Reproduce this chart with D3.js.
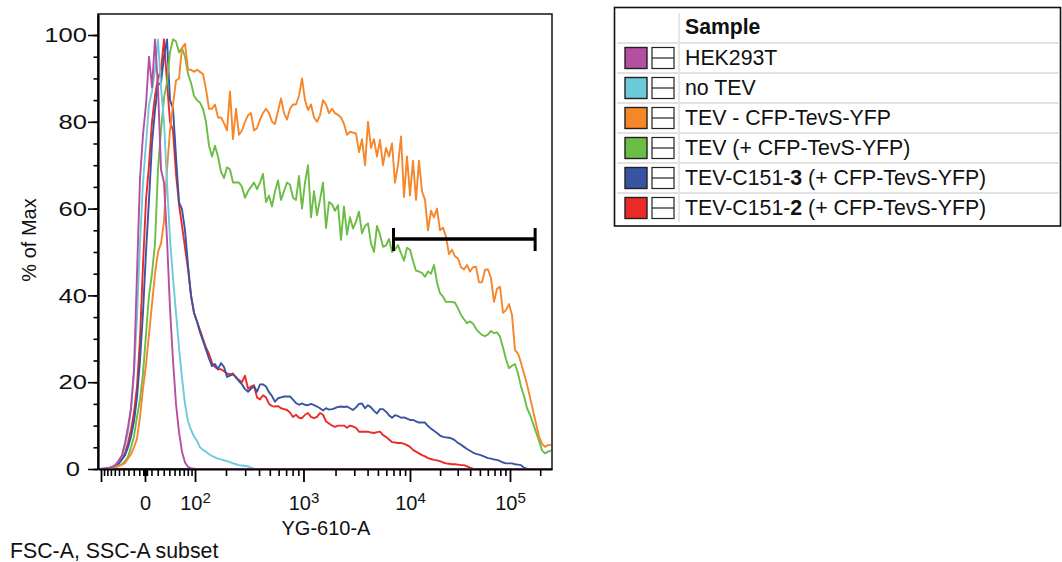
<!DOCTYPE html>
<html>
<head>
<meta charset="utf-8">
<script src="https://cdn.jsdelivr.net/npm/d3@7"></script>
<style>
  body { margin: 0; background: #fff; }
  svg { display: block; font-family: Arial, "Liberation Sans", Helvetica, sans-serif; }
</style>
</head>
<body>
<svg id="chart" width="1062" height="562"></svg>
<script>
/* FlowJo-style overlaid histograms (% of Max vs YG-610-A, biexponential axis) */

// Histogram bins are evenly spaced in display (channel) space
const BIN_COUNT = 152;

const samples = [
  'HEK293T',
  'no TEV',
  'TEV - CFP-TevS-YFP',
  'TEV (+ CFP-TevS-YFP)',
  'TEV-C151-**3** (+ CFP-TevS-YFP)',
  'TEV-C151-**2** (+ CFP-TevS-YFP)'
];
const colors = ['#b54f9f', '#6ccbda', '#f6862a', '#6bbd45', '#3a54a4', '#ec2a27'];

// % of Max per bin (empty bins at the right are left out)
const hek293t = [
  0, 0, 0.1, 0.2, 0.3, 0.5, 1, 2, 3.2, 6,
  9.7, 14, 23, 45, 67, 77, 84, 95, 88, 99,
  88, 69, 66, 53, 37, 25, 15, 8.5, 4, 1.5,
  0.5, 0.2, 0.1
];
const noTev = [
  0, 0, 0.1, 0.1, 0.2, 0.6, 1.2, 2, 3, 5.5,
  8.5, 14, 22, 35, 52, 66, 75, 84, 87, 92,
  99, 88, 80, 66, 53, 44, 36, 28, 21, 15,
  11, 9, 7.5, 6.5, 5, 4.4, 4, 3.4, 3, 2.7,
  2.4, 2.2, 2, 1.8, 1.6, 1.3, 1.1, 0.9, 0.8, 0.7,
  0.6, 0.3, 0.1
];
const tevMinus = [
  0, 0, 0, 0.1, 0.2, 0.3, 0.5, 0.7, 1, 1.4,
  2.4, 3.4, 5, 7, 12, 18.5, 24, 31, 38, 45,
  50, 52, 57, 69, 78, 84, 89.5, 90, 97, 98,
  92, 92, 91.5, 92, 91.5, 91, 87.5, 83, 83, 84,
  81, 81, 79.7, 78, 87, 76, 83, 77, 78, 80,
  81.5, 82, 78, 78.5, 80.5, 82, 83, 82, 80, 79.5,
  82.5, 85.4, 82, 80.5, 83, 84, 84, 86, 90, 85,
  82.7, 84, 81, 80, 81.5, 85, 84, 82, 83, 82,
  81.6, 81, 79.5, 77, 77.7, 77.5, 77.3, 73, 76, 70,
  80, 74, 76, 72, 75.8, 70, 74, 72, 75, 66,
  70, 76.6, 62.7, 72, 63, 71, 62, 71, 64, 62,
  55, 59.5, 58, 60, 55, 55.6, 53.5, 49.5, 50.5, 49,
  48.5, 46.5, 46, 47, 45.5, 46.5, 46.6, 43, 43, 45.9,
  46, 44, 38.5, 41.5, 42, 36, 36.6, 38, 35.5, 27.4,
  26.6, 24.5, 22, 19.5, 16.5, 13.5, 10.5, 7.5, 5.8, 5.1,
  5.5, 5.5
];
const tevPlus = [
  0, 0, 0, 0.1, 0.2, 0.3, 0.5, 0.8, 1.1, 1.8,
  2.8, 5, 7.5, 12, 16, 22, 31, 40, 45, 52,
  69, 78, 85.5, 89, 96, 99, 98.5, 96, 97, 95,
  91, 89, 86, 85, 84.4, 83, 80, 74.5, 72, 74.5,
  72, 68.5, 67, 69.5, 69, 66, 66, 66, 65, 62.5,
  64, 65, 66, 64.5, 66, 68, 61.5, 63, 60.5, 64,
  66.5, 62, 64, 66, 65.5, 62.5, 62, 67.5, 60, 66,
  70, 58, 64, 58.5, 62, 66, 55.5, 61.5, 61, 59.5,
  60.8, 52.8, 60.5, 54, 58, 55.4, 57, 59.3, 54.3, 56,
  56.6, 52, 50, 56, 54, 51.2, 51.5, 53, 50, 50.5,
  51.6, 49.7, 48, 51, 50.5, 48, 45.7, 45.5, 45.2, 44.3,
  45.5, 45, 47, 43, 40.5, 39.7, 38.5, 38.5, 38.5, 38.3,
  37, 35.5, 34.5, 33.6, 34, 33.5, 32.3, 31.5, 30.9, 30.6,
  31, 31.8, 31.3, 31.5, 30.5, 28, 25.3, 23.2, 23.8, 24.2,
  22, 19, 16.8, 14, 12.5, 10.5, 8.5, 6.5, 4.3, 3.6,
  4, 4.2
];
const c151Clone3 = [
  0, 0, 0.1, 0.2, 0.3, 0.5, 0.8, 1.3, 2.2, 3.2,
  5, 7.5, 11, 16.5, 25, 36, 50, 62, 75, 82.7,
  88.5, 89, 95, 99, 85, 83, 72, 61.5, 59.8, 55,
  47, 40, 36, 34, 31.5, 29.5, 27.5, 25.5, 23.7, 24.2,
  23, 24.4, 23.5, 21.2, 21.5, 21.8, 21.2, 20.2, 19.5, 18.4,
  17.8, 18.5, 19, 17.8, 19.5, 19.5, 19, 17.7, 16.8, 15.5,
  16.3, 16.5, 16.7, 16.7, 16.7, 16, 15.2, 14.8, 15.1, 14.8,
  14.7, 15, 14.7, 14.4, 14, 13.5, 14, 13.7, 13.8, 14,
  14.3, 14.4, 14.3, 14.4, 14, 13.6, 14.2, 15, 15.1, 14,
  14.7, 14.2, 13.4, 12.8, 13.8, 13.8, 13.2, 12.4, 11.8, 12.4,
  12.2, 11.8, 11.9, 11.6, 11.3, 11.3, 11, 10.7, 10.7, 10.7,
  9.9, 9.3, 8.8, 8.3, 7.7, 7.4, 7.3, 7.2, 7, 6.6,
  6, 5.6, 5.1, 4.6, 4.2, 3.8, 3.5, 3.3, 3.1, 2.8,
  2.5, 2.4, 2.2, 2.1, 1.8, 1.5, 1.3, 1.3, 1.3, 1.1,
  1, 0.9, 0.3, 0.1
];
const c151Clone2 = [
  0, 0, 0.1, 0.2, 0.3, 0.6, 1, 1.8, 2.6, 3.6,
  6, 9, 13, 19, 30, 47, 62, 70, 80, 86,
  90, 92, 99, 89, 80, 78, 68, 61, 56, 51,
  46, 40, 36, 34, 32, 30, 28, 26.5, 24.5, 23.5,
  23, 23, 22.5, 22, 21.8, 22, 21, 20.5, 20, 21.5,
  18.5, 19, 19.3, 16.5, 16, 17, 16.5, 15, 14.5, 14.4,
  14.5, 14, 13.8, 13.6, 13, 12, 12.5, 11.8, 11.7, 12.5,
  12.9, 12, 11.7, 12, 12.9, 12.5, 11, 10.5, 10, 9.7,
  10, 10, 10, 9.5, 10, 9.8, 9.5, 8.6, 8.6, 8.6,
  8.6, 8.4, 8.3, 8.5, 8.6, 7.8, 7.4, 6.8, 6.2, 6.1,
  6, 6, 5.8, 5.5, 5.1, 4.4, 4, 3.6, 3.2, 2.9,
  2.5, 2.3, 2.1, 2, 1.8, 1.5, 1.3, 1.2, 1.1, 1.1,
  1, 0.9, 0.9, 0.6, 0.3, 0.1
];
const seriesValues = [hek293t, noTev, tevMinus, tevPlus, c151Clone3, c151Clone2];

const yMajorTicks = [0, 20, 40, 60, 80, 100];
const yMinorTicks = d3.range(0, 101, 5);
const xMajorTicks = [-100, 0, 1e2, 1e3, 1e4, 1e5];
const xLabelled = [0, 1e2, 1e3, 1e4, 1e5];
const xMax = 262144;

// Gate on the plot: fluorescence range and height (% of Max)
const gateRange = [7000, 178000];
const gateLevel = 53;

// ---- layout
const margin = { left: 98, top: 14 };
const W = 454, H = 455;
const svg = d3.select('#chart');
const g = svg.append('g').attr('transform', `translate(${margin.left},${margin.top})`);

// Biexponential-like display transform; calibrated on the decade positions
const asinhT = v => Math.asinh(v / 60);
const xAnchors = [-100, 0, 1e2, 1e3, 1e4, 1e5, xMax];
const xAnchorFrac = [0.0066, 0.1035, 0.2137, 0.4526, 0.6872, 0.9075, 1];
const x = d3.scaleLinear()
  .domain(xAnchors.map(asinhT))
  .range(xAnchorFrac.map(f => f * W));
const xv = v => x(asinhT(v));

const xBin = d3.scaleLinear().domain([0, BIN_COUNT - 1]).range([0, W - 1]);
const y = d3.scaleLinear().domain([0, 100 * H / 434]).range([H, 0]);

// ---- frame
g.append('rect')
  .attr('x', 0).attr('y', 0).attr('width', W).attr('height', H)
  .attr('fill', 'none').attr('stroke', '#222').attr('stroke-width', 1.6);

// ---- histograms (first sample drawn on top)
const line = d3.line()
  .x((d, i) => xBin(i))
  .y(d => y(d));

const curves = g.append('g');
seriesValues.map((vals, i) => ({ i, vals }))
  .reverse()
  .forEach(s => {
    const full = s.vals.concat(new Array(BIN_COUNT - s.vals.length).fill(0));
    curves.append('path')
      .attr('d', line(full))
      .attr('fill', 'none')
      .attr('stroke', colors[s.i])
      .attr('stroke-width', 1.9)
      .attr('stroke-linejoin', 'round');
  });

// ---- gate
const gate = g.append('g').attr('stroke', '#000');
gate.append('line')
  .attr('x1', xv(gateRange[0])).attr('x2', xv(gateRange[1]))
  .attr('y1', y(gateLevel)).attr('y2', y(gateLevel))
  .attr('stroke-width', 3.5);
gateRange.forEach(v => {
  gate.append('line')
    .attr('x1', xv(v)).attr('x2', xv(v))
    .attr('y1', y(gateLevel) - 11).attr('y2', y(gateLevel) + 12)
    .attr('stroke-width', 3);
});

// ---- y axis
const yMinorAxis = g.append('g')
  .call(d3.axisLeft(y).tickValues(yMinorTicks).tickSize(4.5).tickFormat(''));
yMinorAxis.select('.domain').remove();
const yAxis = g.append('g')
  .call(d3.axisLeft(y).tickValues(yMajorTicks).tickSize(10).tickSizeOuter(0));
yAxis.selectAll('line').attr('stroke-width', 1.6);
yMinorAxis.selectAll('line').attr('stroke-width', 1.6);
yAxis.select('.domain').attr('stroke-width', 2.2);
// labels are drawn wide in the original export
yAxis.selectAll('text')
  .attr('font-size', 21).attr('fill', '#111')
  .attr('x', 0)
  .attr('transform', d => `translate(${d === 0 ? -18 : -11},0) scale(1.22,1)`);

// ---- x axis (biexponential ticks)
const xMinor = [];
[-1, 1].forEach(sgn => {
  d3.range(1, 10).forEach(m => xMinor.push(sgn * m * 10));
  [1, 2, 3].forEach(m => xMinor.push(sgn * m));
});
[1e2, 1e3, 1e4].forEach(dec => d3.range(2, 10).forEach(m => xMinor.push(m * dec)));
xMinor.push(2e5);

const xAxisScale = v => xv(v);
xAxisScale.copy = () => xAxisScale;
xAxisScale.range = () => [0, W];
xAxisScale.domain = () => [-110, xMax];

const xMinorAxis = g.append('g')
  .attr('transform', `translate(0,${H})`)
  .call(d3.axisBottom(xAxisScale).tickValues(xMinor).tickSize(7).tickFormat(''));
xMinorAxis.select('.domain').remove();
xMinorAxis.selectAll('line').attr('stroke-width', 1.6);

const supers = { 100: '2', 1000: '3', 10000: '4', 100000: '5' };
const xAxis = g.append('g')
  .attr('transform', `translate(0,${H})`)
  .call(d3.axisBottom(xAxisScale).tickValues(xMajorTicks).tickSize(13).tickSizeOuter(0)
    .tickPadding(14).tickFormat(d => xLabelled.includes(d) ? (d === 0 ? '0' : '10') : ''));
xAxis.select('.domain').attr('stroke-width', 2.2);
xAxis.selectAll('line').attr('stroke-width', 1.8);
xAxis.selectAll('text')
  .attr('font-size', 20).attr('fill', '#111')
  .each(function (d) {
    if (supers[d]) {
      d3.select(this).append('tspan')
        .attr('font-size', 15).attr('dy', '-0.45em').text(supers[d]);
    }
  });

// ---- axis titles and subset label
svg.append('text')
  .attr('transform', 'translate(36,240) rotate(-90)')
  .attr('text-anchor', 'middle')
  .attr('font-size', 20).attr('fill', '#111')
  .text('% of Max');
svg.append('text')
  .attr('x', 326).attr('y', 535)
  .attr('text-anchor', 'middle')
  .attr('font-size', 20).attr('fill', '#111')
  .text('YG-610-A');
svg.append('text')
  .attr('x', 10).attr('y', 558)
  .attr('font-size', 21.3).attr('fill', '#111')
  .text('FSC-A, SSC-A subset');

// ---- legend table
const lg = svg.append('g');
const lgLeft = 614.5, lgRight = 1060.5, lgTop = 7.5, lgBottom = 226;
const rowTop = 42, rowH = 30;
lg.append('rect')
  .attr('x', lgLeft).attr('y', lgTop)
  .attr('width', lgRight - lgLeft).attr('height', lgBottom - lgTop)
  .attr('fill', '#fff').attr('stroke', '#111').attr('stroke-width', 1.6);
samples.forEach((s, i) => {
  lg.append('line')
    .attr('x1', lgLeft + 3).attr('x2', lgRight - 2)
    .attr('y1', rowTop + i * rowH + 1).attr('y2', rowTop + i * rowH + 1)
    .attr('stroke', '#e2e2e2').attr('stroke-width', 2);
});
lg.append('line')
  .attr('x1', 679).attr('x2', 679).attr('y1', 13).attr('y2', 222)
  .attr('stroke', '#e6e6e6').attr('stroke-width', 2);
lg.append('text')
  .attr('x', 685).attr('y', 27).attr('dy', '0.35em')
  .attr('font-size', 21.2).attr('font-weight', 'bold').attr('fill', '#111')
  .text('Sample');

samples.forEach((s, i) => {
  const cy = rowTop + i * rowH + 15 + 1;
  lg.append('rect')
    .attr('x', 625).attr('y', cy - 10.5).attr('width', 22).attr('height', 21)
    .attr('fill', colors[i]).attr('stroke', '#222').attr('stroke-width', 1.4);
  lg.append('rect')
    .attr('x', 652).attr('y', cy - 10.5).attr('width', 22).attr('height', 21)
    .attr('fill', '#fff').attr('stroke', '#222').attr('stroke-width', 1.2);
  lg.append('line')
    .attr('x1', 652).attr('x2', 674).attr('y1', cy).attr('y2', cy)
    .attr('stroke', '#222').attr('stroke-width', 1.2);
  const t = lg.append('text')
    .attr('x', 685).attr('y', cy).attr('dy', '0.35em')
    .attr('font-size', 21.3).attr('fill', '#111');
  s.split('**').forEach((part, k) => {
    t.append('tspan').attr('font-weight', k % 2 ? 'bold' : null).text(part);
  });
});
</script>
</body>
</html>
